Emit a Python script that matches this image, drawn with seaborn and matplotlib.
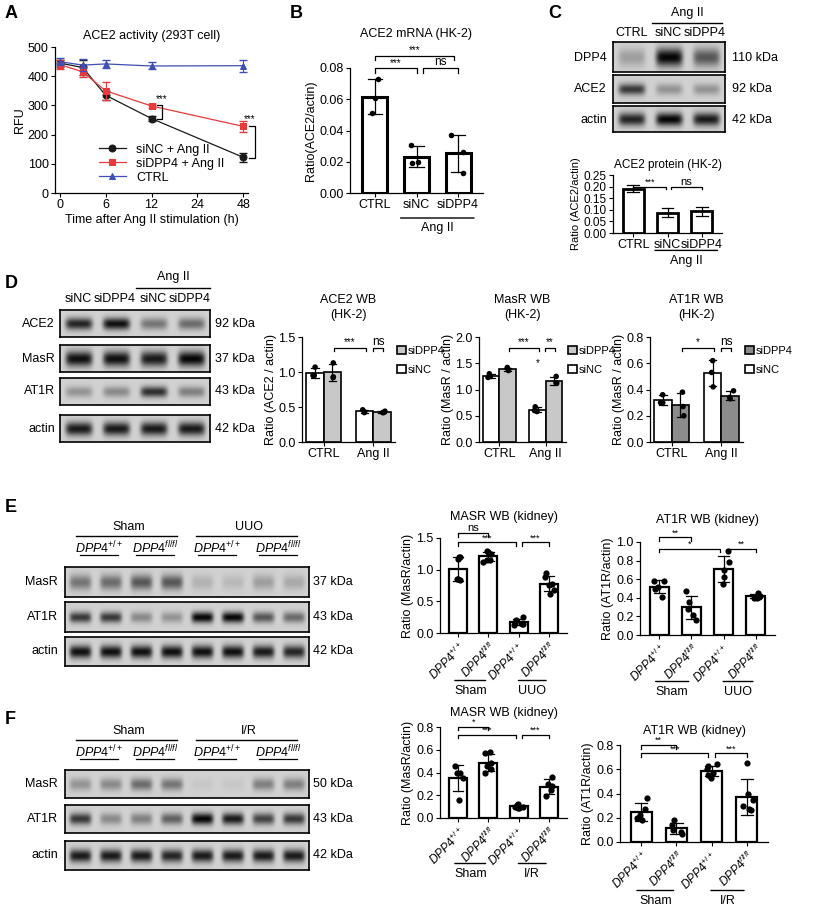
import numpy as np
import pandas as pd
import matplotlib
matplotlib.use("Agg")
import matplotlib.pyplot as plt
import seaborn as sns

plt.rcParams["font.family"] = "Liberation Sans"
plt.rcParams["font.size"] = 9
plt.rcParams["mathtext.fontset"] = "custom"
plt.rcParams["mathtext.it"] = "Liberation Sans:italic"
plt.rcParams["mathtext.rm"] = "Liberation Sans"

# ---------------- data ----------------
# A
time_h = [0, 3, 6, 12, 48]
tick_h = [0, 6, 12, 24, 48]
a_sinc = [445, 430, 335, 255, 122]
a_sinc_err = [12, 25, 15, 10, 15]
a_sidpp4 = [440, 415, 350, 298, 228]
a_sidpp4_err = [15, 18, 30, 8, 18]
a_ctrl = [450, 438, 442, 435, 436]
a_ctrl_err = [12, 20, 15, 12, 20]
# B
b_groups = ["CTRL", "siNC", "siDPP4"]
b_vals = [[0.073, 0.061, 0.051], [0.031, 0.019, 0.020], [0.037, 0.026, 0.013]]
# C
c_groups = ["CTRL", "siNC", "siDPP4"]
c_vals = [[0.205, 0.19, 0.175], [0.11, 0.085, 0.07], [0.115, 0.09, 0.075]]
c_blot_dpp4 = [0.25, 1.0, 0.6]
c_blot_ace2 = [0.75, 0.3, 0.3]
c_blot_actin = [0.85, 1.0, 0.9]
# D
d_conds = ["CTRL", "Ang II"]
d_hues = ["siNC", "siDPP4"]
d_ace2 = {("CTRL", "siNC"): [1.07, 0.95, 0.95], ("CTRL", "siDPP4"): [1.13, 0.93, 0.92],
          ("Ang II", "siNC"): [0.46, 0.42, 0.43], ("Ang II", "siDPP4"): [0.42, 0.42, 0.44]}
d_masr = {("CTRL", "siNC"): [1.30, 1.25, 1.23], ("CTRL", "siDPP4"): [1.42, 1.38, 1.36],
          ("Ang II", "siNC"): [0.67, 0.58, 0.60], ("Ang II", "siDPP4"): [1.25, 1.13, 1.12]}
d_at1r = {("CTRL", "siNC"): [0.36, 0.30, 0.30], ("CTRL", "siDPP4"): [0.38, 0.27, 0.20],
          ("Ang II", "siNC"): [0.62, 0.53, 0.42], ("Ang II", "siDPP4"): [0.39, 0.34, 0.33]}
d_blot_ace2 = [0.85, 0.95, 0.45, 0.5]
d_blot_masr = [0.95, 0.95, 0.9, 1.0]
d_blot_at1r = [0.3, 0.35, 0.8, 0.4]
d_blot_actin = [0.9, 0.9, 0.9, 0.9]
# E / F
geno = [r"$DPP4^{+/+}$", r"$DPP4^{fl/fl}$", r"$DPP4^{+/+}$ ", r"$DPP4^{fl/fl}$ "]
e_masr = [[1.20, 1.20, 1.17, 0.85, 0.83, 0.85], [1.30, 1.28, 1.25, 1.15, 1.12, 1.15],
          [0.25, 0.20, 0.16, 0.14, 0.12, 0.15], [0.95, 0.88, 0.78, 0.76, 0.62, 0.68]]
e_at1r = [[0.58, 0.58, 0.52, 0.50, 0.41], [0.47, 0.35, 0.28, 0.22, 0.16],
          [0.90, 0.78, 0.70, 0.62, 0.55], [0.45, 0.42, 0.41, 0.40, 0.40]]
f_masr = [[0.46, 0.40, 0.40, 0.35, 0.16], [0.58, 0.57, 0.48, 0.46, 0.40, 0.43],
          [0.12, 0.11, 0.10, 0.09, 0.09, 0.10], [0.36, 0.30, 0.28, 0.25, 0.19]]
f_at1r = [[0.36, 0.27, 0.22, 0.20, 0.18], [0.18, 0.14, 0.10, 0.08, 0.07],
          [0.64, 0.63, 0.60, 0.57, 0.55, 0.53], [0.65, 0.40, 0.35, 0.30, 0.26, 0.27]]
e_blot_masr = [0.45, 0.5, 0.6, 0.6, 0.15, 0.12, 0.25, 0.2]
e_blot_at1r = [0.75, 0.75, 0.35, 0.3, 1.0, 1.0, 0.6, 0.5]
e_blot_actin = [0.95, 0.95, 0.95, 0.95, 0.95, 0.95, 0.9, 0.85]
f_blot_masr = [0.3, 0.35, 0.5, 0.45, 0.05, 0.05, 0.4, 0.4]
f_blot_at1r = [0.75, 0.35, 0.4, 0.55, 1.0, 0.9, 0.7, 0.75]
f_blot_actin = [0.9, 0.9, 0.9, 0.85, 0.9, 0.9, 0.9, 0.9]

# ---------------- helpers ----------------
W, H = 814, 907
fig = plt.figure(figsize=(W / 100, H / 100), dpi=100)


def add_ax(l, t, r, b):
    return fig.add_axes([l / W, 1 - b / H, (r - l) / W, (b - t) / H])


def ftext(x, y, s, **kw):
    fig.text(x / W, 1 - y / H, s, **kw)


def fline(x1, x2, y, lw=1):
    fig.add_artist(plt.Line2D([x1 / W, x2 / W], [1 - y / H, 1 - y / H], color="black", lw=lw))


def style(ax):
    sns.despine(ax=ax)
    ax.tick_params(length=3, width=0.8, pad=1.5)
    for s in ax.spines.values():
        s.set_linewidth(0.9)


def bracket(ax, x1, x2, y, h, text, fs=7):
    ax.plot([x1, x1, x2, x2], [y - h, y, y, y - h], color="black", lw=0.9, clip_on=False)
    ax.text((x1 + x2) / 2, y, text, ha="center", va="bottom", fontsize=fs, clip_on=False)


def group_line(ax, x1, x2, yfrac, text, fs=9):
    ax.annotate("", xy=(x1, yfrac), xytext=(x2, yfrac), xycoords=("data", "axes fraction"),
                arrowprops=dict(arrowstyle="-", lw=1))
    ax.annotate(text, xy=((x1 + x2) / 2, yfrac), xycoords=("data", "axes fraction"),
                xytext=(0, -3), textcoords="offset points", ha="center", va="top", fontsize=fs)


def blot(l, t, r, b, inten, bandh=0.28):
    ax = add_ax(l, t, r, b)
    n = len(inten)
    hp, wp = 40, 60 * n
    yy, xx = np.mgrid[0:hp, 0:wp]
    img = np.full((hp, wp), 0.82)
    for i, v in enumerate(inten):
        cx = (i + 0.5) * wp / n
        g = np.exp(-((xx - cx) / (wp / n * 0.36)) ** 6) * np.exp(-((yy - hp / 2) / (hp * bandh)) ** 2)
        img -= 0.8 * v * g
    ax.imshow(img, cmap="gray", vmin=0, vmax=1, aspect="auto", interpolation="bilinear")
    ax.set_xticks([]); ax.set_yticks([])
    for s in ax.spines.values():
        s.set_linewidth(1.2)
    return ax


def barpanel(ax, groups, vals, ylim, yticks, ylabel, title, lw=2, width=0.6, dots=True, dsize=4):
    df = pd.DataFrame([(g, v) for g, vs in zip(groups, vals) for v in vs], columns=["g", "v"])
    sns.barplot(data=df, x="g", y="v", order=groups, errorbar="sd", capsize=0.35, width=width,
                color="white", edgecolor="black", linewidth=lw,
                err_kws={"color": "black", "linewidth": 0.9}, ax=ax)
    if dots:
        sns.stripplot(data=df, x="g", y="v", order=groups, color="black", size=dsize, jitter=0.18,
                      ax=ax, zorder=5)
    ax.set_ylim(*ylim)
    ax.set_yticks(yticks)
    ax.set_xlim(-0.6, len(groups) - 0.4)
    ax.set_xlabel("")
    ax.set_ylabel(ylabel, labelpad=2)
    ax.set_title(title, fontsize=9, pad=14)
    style(ax)


def huepanel(ax, data, grey, ylim, yticks, ylabel, title):
    rows = [(c, h, v) for (c, h), vs in data.items() for v in vs]
    df = pd.DataFrame(rows, columns=["c", "h", "v"])
    sns.barplot(data=df, x="c", y="v", hue="h", order=d_conds, hue_order=d_hues, errorbar="sd",
                capsize=0.3, palette=["white", grey], edgecolor="black", linewidth=1.2, width=0.7,
                err_kws={"color": "black", "linewidth": 0.9}, ax=ax)
    sns.stripplot(data=df, x="c", y="v", hue="h", order=d_conds, hue_order=d_hues, dodge=True,
                  palette=["black", "black"], size=4, jitter=0.1, ax=ax, legend=False, zorder=5)
    ax.set_ylim(*ylim)
    ax.set_yticks(yticks)
    ax.set_xlabel("")
    ax.set_ylabel(ylabel, labelpad=1)
    ax.set_title(title, fontsize=9, pad=14, linespacing=1.3)
    hnd, lab = ax.get_legend_handles_labels()
    ax.legend(hnd[::-1], lab[::-1], loc="upper left", bbox_to_anchor=(0.97, 0.96), frameon=False,
              handlelength=0.8, handleheight=0.8, handletextpad=0.2, labelspacing=0.8, fontsize=8,
              borderaxespad=0)
    style(ax)


# ---------------- Panel A ----------------
ax = add_ax(55, 47, 248, 193)
pos = np.interp(time_h, tick_h, np.arange(len(tick_h)))
for vals, err, col, mk, lab in [(a_sinc, a_sinc_err, "#1a1a1a", "o", "siNC + Ang II"),
                                (a_sidpp4, a_sidpp4_err, "#e83a3a", "s", "siDPP4 + Ang II"),
                                (a_ctrl, a_ctrl_err, "#3f4fb5", "^", "CTRL")]:
    df = pd.DataFrame({"x": pos, "y": vals})
    sns.lineplot(data=df, x="x", y="y", color=col, marker=mk, markersize=5, markeredgecolor=col,
                 lw=0.9, ax=ax, label=lab)
    ax.errorbar(pos, vals, yerr=err, fmt="none", ecolor=col, elinewidth=0.8, capsize=3)
ax.set_ylim(0, 500)
ax.set_yticks(range(0, 501, 100))
ax.set_xticks(np.arange(len(tick_h)))
ax.set_xticklabels([str(t) for t in tick_h])
ax.set_xlim(-0.1, 4.1)
ax.set_xlabel("Time after Ang II stimulation (h)", labelpad=2)
ax.set_ylabel("RFU", labelpad=1)
ax.set_title("ACE2 activity (293T cell)", fontsize=9, pad=6)
ax.legend(loc="lower left", frameon=False, fontsize=9, handlelength=2.2, labelspacing=0.15,
          bbox_to_anchor=(0.2, 0.03), borderaxespad=0)
x12, x48 = pos[3], pos[4]
ax.plot([x12 + 0.12, x12 + 0.22, x12 + 0.22, x12 + 0.12], [300, 300, 255, 255], color="k", lw=0.9)
ax.text(x12 + 0.1, 310, "***", fontsize=7)
ax.plot([x48 + 0.12, x48 + 0.25, x48 + 0.25, x48 + 0.12], [228, 228, 120, 120], color="k", lw=0.9,
        clip_on=False)
ax.text(x48 + 0.0, 242, "***", fontsize=7)
style(ax)

# ---------------- Panel B ----------------
ax = add_ax(350, 68, 483, 193)
barpanel(ax, b_groups, b_vals, (0, 0.08), [0, 0.02, 0.04, 0.06, 0.08], "Ratio(ACE2/actin)",
         "ACE2 mRNA (HK-2)", lw=2.2, width=0.6)
ax.set_title("ACE2 mRNA (HK-2)", fontsize=9, pad=22)
ax.set_yticklabels(["0.00", "0.02", "0.04", "0.06", "0.08"])
bracket(ax, 0, 1, 0.080, 0.003, "***")
bracket(ax, 1.15, 2, 0.080, 0.003, "ns", fs=8.5)
bracket(ax, 0, 1.9, 0.088, 0.003, "***")
group_line(ax, 0.55, 2.45, -0.2, "Ang II", fs=9)

# ---------------- Panel C ----------------
blot(613, 42, 725, 72, c_blot_dpp4, 0.3)
blot(613, 75, 725, 103, c_blot_ace2, 0.2)
blot(613, 106, 725, 132, c_blot_actin, 0.25)
for y, s, kd in [(58, "DPP4", "110 kDa"), (89, "ACE2", "92 kDa"), (120, "actin", "42 kDa")]:
    ftext(607, y, s, ha="right", va="center", fontsize=9)
    ftext(732, y, kd, ha="left", va="center", fontsize=9)
for x, s in [(632, "CTRL"), (668, "siNC"), (705, "siDPP4")]:
    ftext(x, 33, s, ha="center", va="center", fontsize=9)
fline(652, 722, 23)
ftext(687, 13, "Ang II", ha="center", va="center", fontsize=9)
ax = add_ax(613, 175, 722, 233)
barpanel(ax, c_groups, c_vals, (0, 0.25), [0, 0.05, 0.1, 0.15, 0.2, 0.25], "Ratio (ACE2/actin)",
         "ACE2 protein (HK-2)", lw=2, width=0.6, dots=False)
ax.set_title("ACE2 protein (HK-2)", fontsize=8.5, pad=5)
ax.set_yticklabels(["0.00", "0.05", "0.10", "0.15", "0.20", "0.25"])
ax.tick_params(axis="y", labelsize=8.5)
ax.yaxis.label.set_size(8)
bracket(ax, 0, 0.95, 0.2, 0.012, "***", fs=6.5)
bracket(ax, 1.1, 2, 0.2, 0.012, "ns", fs=8)
group_line(ax, 0.55, 2.55, -0.3, "Ang II", fs=9)

# ---------------- Panel D ----------------
rows_d = [(310, 337, d_blot_ace2, "ACE2", "92 kDa", 0.22), (345, 372, d_blot_masr, "MasR", "37 kDa", 0.28),
          (378, 405, d_blot_at1r, "AT1R", "43 kDa", 0.2), (415, 442, d_blot_actin, "actin", "42 kDa", 0.25)]
for t, b, inten, lab, kd, bh in rows_d:
    blot(60, t, 210, b, inten, bh)
    ftext(55, (t + b) / 2, lab, ha="right", va="center", fontsize=9)
    ftext(215, (t + b) / 2, kd, ha="left", va="center", fontsize=9)
for x, s in [(78, "siNC"), (115, "siDPP4"), (153, "siNC"), (190, "siDPP4")]:
    ftext(x, 299, s, ha="center", va="center", fontsize=9)
fline(136, 210, 288)
ftext(173, 277, "Ang II", ha="center", va="center", fontsize=9)

ax = add_ax(302, 337, 395, 442)
huepanel(ax, d_ace2, "#c8c8c8", (0, 1.5), [0, 0.5, 1.0, 1.5], "Ratio (ACE2 / actin)", "ACE2 WB\n(HK-2)")
bracket(ax, 0.2, 0.85, 1.35, 0.05, "***")
bracket(ax, 1.0, 1.2, 1.35, 0.05, "ns", fs=8.5)
ax = add_ax(479, 337, 566, 442)
huepanel(ax, d_masr, "#c8c8c8", (0, 2.0), [0, 0.5, 1.0, 1.5, 2.0], "Ratio (MasR / actin)", "MasR WB\n(HK-2)")
bracket(ax, 0.2, 0.85, 1.8, 0.07, "***")
bracket(ax, 0.98, 1.2, 1.8, 0.07, "**")
ax.text(0.82, 1.45, "*", ha="center", fontsize=7)
ax = add_ax(650, 337, 743, 442)
huepanel(ax, d_at1r, "#8c8c8c", (0, 0.8), [0, 0.2, 0.4, 0.6, 0.8], "Ratio (MasR / actin)", "AT1R WB\n(HK-2)")
bracket(ax, 0.2, 0.85, 0.72, 0.03, "*")
bracket(ax, 1.0, 1.2, 0.72, 0.03, "ns", fs=8.5)


# ---------------- Panels E / F blots ----------------
def big_blot(top_hdr, rows, grp2):
    for t, b, inten, lab, kd, bh in rows:
        blot(65, t, 309, b, inten, bh)
        ftext(58, (t + b) / 2, lab, ha="right", va="center", fontsize=9)
        ftext(313, (t + b) / 2, kd, ha="left", va="center", fontsize=9)
    y0 = top_hdr
    ftext(129, y0, "Sham", ha="center", va="center", fontsize=9)
    ftext(249, y0, grp2, ha="center", va="center", fontsize=9)
    fline(76, 177, y0 + 9)
    fline(196, 297, y0 + 9)
    for x, s in [(99, r"$DPP4^{+/+}$"), (155, r"$DPP4^{fl/fl}$"), (217, r"$DPP4^{+/+}$"),
                 (278, r"$DPP4^{fl/fl}$")]:
        ftext(x, y0 + 21, s, ha="center", va="center", fontsize=9)
        fline(x - 19, x + 19, y0 + 28, lw=0.9)


big_blot(527, [(567, 597, e_blot_masr, "MasR", "37 kDa", 0.25), (602, 632, e_blot_at1r, "AT1R", "43 kDa", 0.18),
               (637, 666, e_blot_actin, "actin", "42 kDa", 0.22)], "UUO")
big_blot(731, [(770, 798, f_blot_masr, "MasR", "50 kDa", 0.22), (805, 833, f_blot_at1r, "AT1R", "43 kDa", 0.2),
               (841, 870, f_blot_actin, "actin", "42 kDa", 0.22)], "I/R")


def kid_panel(box, vals, ylim, yticks, ylabel, grp2, brs, tpad):
    ax = add_ax(*box)
    title = "MASR WB (kidney)" if "MasR" in ylabel else "AT1R WB (kidney)"
    barpanel(ax, geno, vals, ylim, yticks, ylabel, title, lw=1.6, width=0.6, dsize=4.5)
    ax.set_title(title, fontsize=9, pad=tpad)
    ax.tick_params(axis="x", labelrotation=45, labelsize=8.5)
    for lbl in ax.get_xticklabels():
        lbl.set_ha("right"); lbl.set_rotation_mode("anchor")
    for x1, x2, y, h, s in brs:
        bracket(ax, x1, x2, y, h, s, fs=6.5 if "*" in s else 8)
    group_line(ax, -0.2, 1.0, -0.5, "Sham")
    group_line(ax, 1.9, 3.0, -0.5, grp2)
    return ax


kid_panel((440, 538, 567, 633), e_masr, (0, 1.5), [0, 0.5, 1.0, 1.5], "Ratio (MasR/actin)", "UUO",
          [(0, 1, 1.58, 0.06, "ns"), (0, 1.9, 1.43, 0.06, "***"), (2.1, 3, 1.43, 0.06, "***")], 13)
kid_panel((640, 542, 775, 635), e_at1r, (0, 1.0), [0, 0.2, 0.4, 0.6, 0.8, 1.0], "Ratio (AT1R/actin)", "UUO",
          [(0, 1, 1.05, 0.04, "**"), (0, 1.9, 0.93, 0.04, "*"), (2.1, 3, 0.93, 0.04, "**")], 14)
kid_panel((440, 727, 567, 818), f_masr, (0, 0.8), [0, 0.2, 0.4, 0.6, 0.8], "Ratio (MasR/actin)", "I/R",
          [(0, 1, 0.8, 0.03, "*"), (0, 1.9, 0.73, 0.03, "***"), (2.1, 3, 0.73, 0.03, "***")], 8)
kid_panel((620, 745, 768, 842), f_at1r, (0, 0.8), [0, 0.2, 0.4, 0.6, 0.8], "Ratio (AT1R/actin)", "I/R",
          [(0, 1, 0.8, 0.03, "**"), (0, 1.9, 0.73, 0.03, "***"), (2.1, 3, 0.73, 0.03, "***")], 8)

# panel letters
for x, y, s in [(5, 14, "A"), (290, 14, "B"), (548, 14, "C"), (5, 283, "D"), (5, 507, "E"), (5, 720, "F")]:
    ftext(x, y, s, fontsize=13, fontweight="bold", va="center")

fig.savefig("out.png", dpi=100)
